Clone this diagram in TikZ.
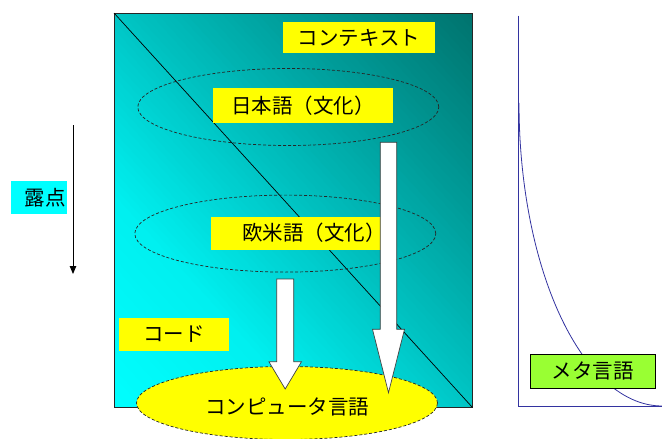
\documentclass[tikz,border=0pt]{standalone}
\usepackage{fontspec}
\newfontfamily\jp{Noto Sans CJK JP}
\usetikzlibrary{calc,arrows.meta,shapes.geometric}
\definecolor{aqua}{RGB}{0,255,255}
\definecolor{yel}{RGB}{255,255,0}
\definecolor{axblue}{RGB}{51,51,160}
\definecolor{metagreen}{RGB}{153,255,51}
\tikzset{
  ybox/.style={fill=yel, inner sep=0pt},
  dashell/.style={ellipse, draw=black!85, dash pattern=on 3pt off 2pt, line width=0.7pt, inner sep=0pt},
  blockarrow/.style={fill=white, draw=black!75, line width=0.7pt},
  lbl/.style={inner sep=0pt, text=black}
}
\begin{document}
\begin{tikzpicture}[x=1pt,y=-1pt, font=\jp\fontsize{20.5}{20.5}\selectfont]
\useasboundingbox (0,0) rectangle (662,439);
% main shaded rectangle (diagonal gradient drawn as strips)
\node (ctx) [anchor=north west, minimum width=358pt, minimum height=394pt, inner sep=0pt] at (114,13) {};
\begin{scope}
  \clip (ctx.north west) rectangle (ctx.south east);
  \foreach \k in {0,...,99}{
    \pgfmathsetmacro{\ta}{\k/100}
    \pgfmathsetmacro{\tb}{(\k+1.4)/100}
    \pgfmathsetmacro{\tm}{(\k+0.5)/100}
    \pgfmathtruncatemacro{\gg}{\tm<0.265 ? 255-15*\tm/0.265 : (\tm<0.5 ? 240-42*(\tm-0.265)/0.235 : (\tm<0.75 ? 198-43*(\tm-0.5)/0.25 : 155-40*(\tm-0.75)/0.25))}
    \pgfmathtruncatemacro{\bb}{\tm<0.5 ? \gg : \gg-5*(\tm-0.5)/0.5}
    \definecolor{stripc}{RGB}{0,\gg,\bb}
    \fill[stripc] ({114+358*(2*\ta+1)},801) -- (-244,{407-394*(2*\ta+1)})
      -- (-244,{407-394*(2*\tb+1)}) -- ({114+358*(2*\tb+1)},801) -- cycle;
  }
\end{scope}
\draw[line width=0.8pt, draw=black!85] (ctx.north west) rectangle (ctx.south east);
\draw[line width=0.7pt] (ctx.north west) -- (ctx.south east);
% dashed ellipses
\node (e1) [dashell, minimum width=301pt, minimum height=77pt] at (288.3,107) {};
\node (e2) [dashell, minimum width=301pt, minimum height=77pt] at (285.3,233.6) {};
% yellow labels
\node (kontekisuto) [ybox, minimum width=151.7pt, minimum height=31.3pt] at (358.8,37.7) {コンテキスト};
\node (nihon) [ybox, minimum width=180pt, minimum height=34.7pt] at (303,105.3) {日本語（文化）};
\node (obeibox) [ybox, minimum width=181pt, minimum height=33pt, anchor=west] at (211,233.2) {};
\node (obei) [lbl, anchor=west] at (242,233.2) {欧米語（文化）};
\node (code) [ybox, minimum width=110pt, minimum height=33pt] at (174,334.2) {コード};
% computer language ellipse
\node (comp) [ellipse, fill=yel, draw=black!85, dash pattern=on 3pt off 2pt, line width=0.7pt, inner sep=0pt,
  minimum width=301pt, minimum height=73pt] at (287,403) {};
\node (complbl) [lbl] at (287,407) {コンピュータ言語};
% block arrows
\coordinate (ra) at (388.5,142.3);
\coordinate (rt) at (388.5,392.7);
\draw[blockarrow] ($(ra)+(-8.2,0)$) -- ($(ra)+(8.2,0)$) -- ($(rt)+(8.2,-63.4)$) -- ($(rt)+(16,-63.4)$)
  -- (rt) -- ($(rt)+(-16,-63.4)$) -- ($(rt)+(-8.2,-63.4)$) -- cycle;
\coordinate (la) at (285.2,279);
\coordinate (lt) at (285.2,389);
\draw[blockarrow] ($(la)+(-8.5,0)$) -- ($(la)+(8.5,0)$) -- ($(lt)+(8.5,-27.3)$) -- ($(lt)+(16.3,-27.3)$)
  -- (lt) -- ($(lt)+(-16.3,-27.3)$) -- ($(lt)+(-8.5,-27.3)$) -- cycle;
% dew point
\coordinate (dtop) at (73,125);
\coordinate (dbot) at (73,274);
\draw[line width=0.9pt, -{Triangle[length=8pt,width=6.5pt]}] (dtop) -- (dbot);
\node (rotenbox) [fill=aqua, inner sep=0pt, minimum width=55.7pt, minimum height=32.7pt] at (38.8,197.3) {};
\node (roten) [lbl, anchor=east] at (66,197.3) {露点};
% right graph
\coordinate (axtop) at (518.3,15.7);
\coordinate (ax0) at (518.3,406.7);
\coordinate (axright) at (664,406.7);
\draw[axblue, line width=0.8pt] (axtop) -- (ax0) -- (axright);
\draw[axblue, line width=0.8pt] plot[domain=0:90, samples=60, smooth] ({662-143*cos(\x)},{103+303*sin(\x)});
\node (meta) [fill=metagreen, draw=black, line width=0.8pt, inner sep=0pt, minimum width=125.3pt, minimum height=34pt] at (592.7,371.3) {メタ言語};
\end{tikzpicture}
\end{document}
